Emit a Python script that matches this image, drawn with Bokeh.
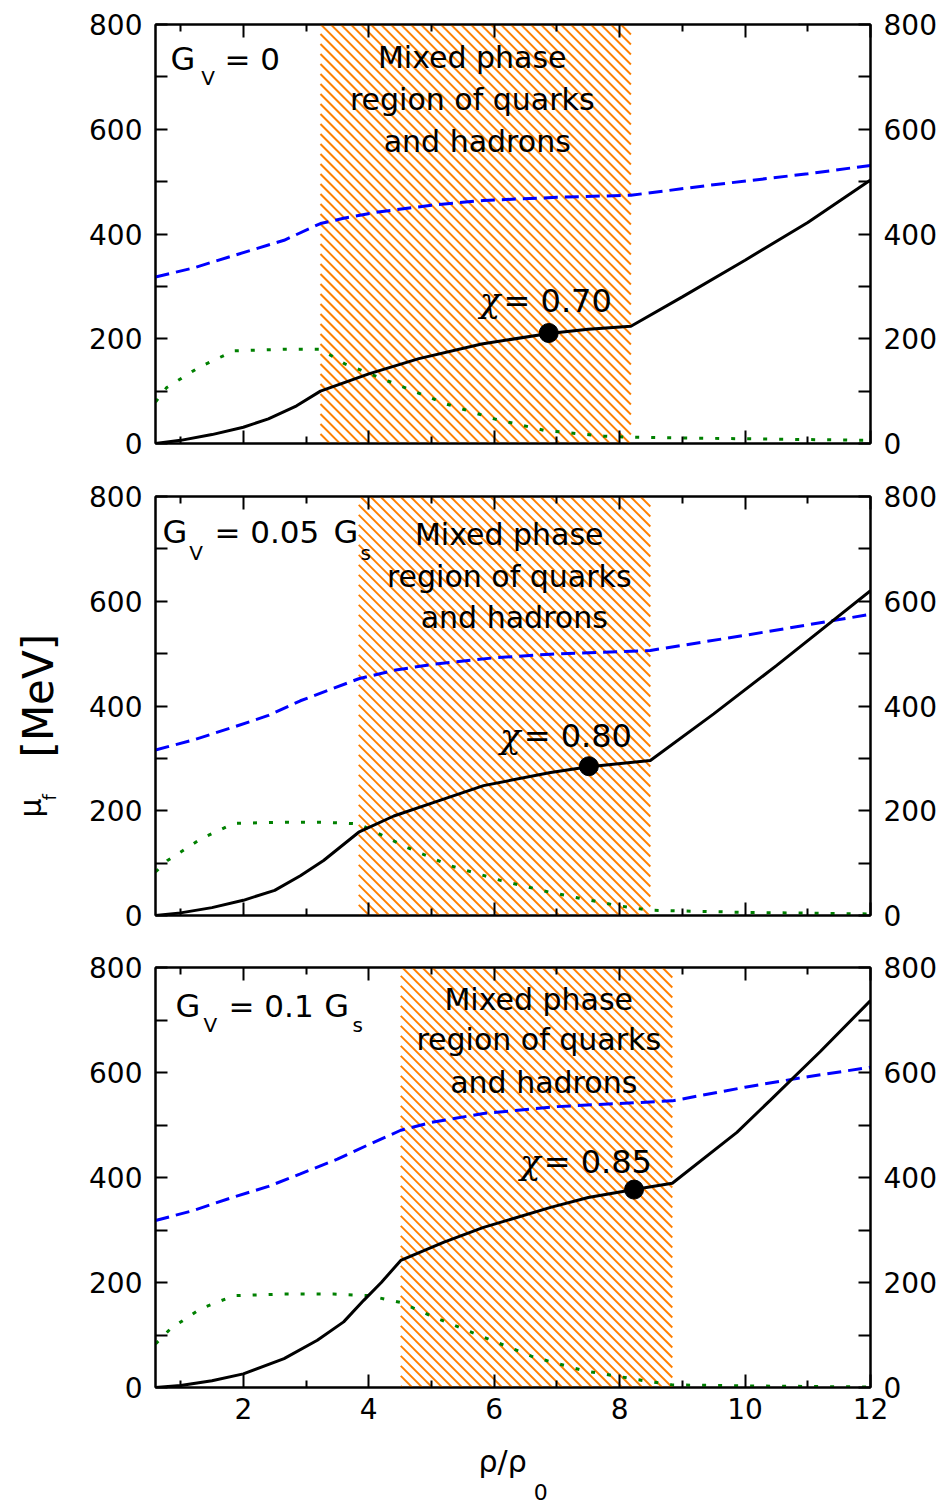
import math
from bokeh.plotting import figure
from bokeh.models import Range1d, LinearAxis, FixedTicker, Label
from bokeh.layouts import column, row
from bokeh.core.properties import value
from bokeh.embed import file_html
from bokeh.resources import INLINE

# ---------------- data ----------------
x_ticks = [2, 4, 6, 8, 10, 12]
x_minor = [1, 3, 5, 7, 9, 11]
y_ticks = [0, 200, 400, 600, 800]
y_minor = [100, 300, 500, 700]

# Panel 1: G_V = 0
p1_black_x = [0.6, 1.0, 1.5, 2.0, 2.4, 2.85, 3.23, 4.0, 4.8, 5.8, 6.87, 7.5, 8.18, 9.0, 10.0, 11.0, 12.0]
p1_black_y = [0, 6, 17, 31, 47, 72, 100, 133, 162, 190, 210, 218, 224, 280, 350, 422, 503]
p1_blue_x = [0.6, 1.2, 1.85, 2.65, 3.23, 3.6, 4.15, 5.0, 5.83, 7.0, 8.18, 9.5, 11.0, 12.0]
p1_blue_y = [318, 335, 359, 388, 420, 430, 442, 455, 464, 470, 474, 494, 515, 531]
p1_green_x = [0.6, 0.78, 1.3, 1.85, 2.65, 3.23, 3.62, 4.42, 5.22, 6.0, 6.8, 7.75, 8.18, 10.0, 12.0]
p1_green_y = [79, 107, 146, 177, 180, 180, 152, 114, 76, 47, 25, 14, 12, 9, 6]
p1_mixed = (3.23, 8.18)
p1_dot_x = [6.87]
p1_dot_y = [211]

# Panel 2: G_V = 0.05 G_s
p2_black_x = [0.6, 1.0, 1.5, 2.0, 2.5, 2.91, 3.28, 3.84, 4.4, 5.04, 5.83, 6.9, 7.51, 8.49, 9.5, 10.5, 12.0]
p2_black_y = [0, 5, 15, 29, 48, 76, 105, 159, 190, 216, 248, 273, 284, 296, 385, 477, 620]
p2_blue_x = [0.6, 1.2, 1.85, 2.4, 2.91, 3.4, 3.84, 4.4, 5.04, 6.0, 6.9, 8.49, 10.0, 12.0]
p2_blue_y = [316, 335, 360, 382, 410, 432, 452, 468, 480, 492, 499, 506, 535, 575]
p2_green_x = [0.6, 0.79, 1.32, 1.85, 2.65, 3.3, 3.84, 4.61, 5.3, 6.1, 6.9, 7.96, 8.49, 10.0, 12.0]
p2_green_y = [83, 105, 146, 176, 178, 178, 175, 130, 95, 67, 44, 19, 10, 6, 3]
p2_mixed = (3.84, 8.49)
p2_dot_x = [7.51]
p2_dot_y = [285]

# Panel 3: G_V = 0.1 G_s
p3_black_x = [0.6, 1.0, 1.5, 2.0, 2.65, 3.18, 3.6, 3.92, 4.2, 4.51, 5.2, 5.83, 6.9, 7.5, 8.23, 8.84, 9.87, 10.4, 11.2, 12.0]
p3_black_y = [0, 4, 13, 26, 55, 90, 125, 166, 200, 242, 277, 305, 343, 362, 377, 389, 486, 547, 640, 737]
p3_blue_x = [0.6, 1.2, 1.85, 2.4, 2.91, 3.5, 3.97, 4.51, 5.0, 5.83, 7.0, 8.49, 8.84, 10.0, 11.0, 12.0]
p3_blue_y = [318, 337, 363, 383, 407, 435, 461, 490, 505, 522, 535, 544, 546, 572, 592, 610]
p3_green_x = [0.6, 0.84, 1.32, 1.85, 2.65, 3.44, 4.0, 4.51, 5.04, 5.83, 6.63, 7.43, 8.39, 8.84, 10.0, 12.0]
p3_green_y = [83, 112, 150, 175, 178, 178, 175, 162, 134, 96, 58, 32, 13, 5, 3, 1]
p3_mixed = (4.51, 8.84)
p3_dot_x = [8.23]
p3_dot_y = [377]

FONT = "DejaVu Sans"
X0, X1, Y0, Y1 = 0.6, 12.0, 0, 800
FRAME_W = 715
LEFT_W = 70          # width of the strip holding the y title
MAIN_LEFT = 85       # left border of each panel (155 - LEFT_W)
MAIN_RIGHT = 72
HATCH = "#FF8000"
BASE_FIX = 0.36      # empirical baseline correction (fraction of font size)
PX_PER_Y = 419 / 800
STRIP_H = 72


def style_axis(ax, ticks, minor, tin, tmin, show_labels, standoff):
    ax.ticker = FixedTicker(ticks=ticks, minor_ticks=minor)
    ax.major_tick_in = tin
    ax.major_tick_out = 0
    ax.minor_tick_in = tmin
    ax.minor_tick_out = 0
    ax.major_tick_line_width = 2
    ax.minor_tick_line_width = 2
    ax.major_tick_line_color = "black"
    ax.minor_tick_line_color = "black"
    ax.axis_line_width = 2
    ax.axis_line_color = "black"
    if show_labels:
        ax.major_label_text_font = FONT
        ax.major_label_text_font_size = "28px"
        ax.major_label_text_color = "black"
        ax.major_label_standoff = standoff
    else:
        ax.major_label_text_font_size = "1px"
        ax.major_label_text_color = None
        ax.major_label_standoff = 0


def lab(p, x, y, text, size, font=FONT, style="normal", align="left"):
    y_adj = y + BASE_FIX * size / PX_PER_Y
    p.add_layout(Label(x=x, y=y_adj, text=text, text_font=font,
                       text_font_size=f"{size}px", text_font_style=style,
                       text_align=align, text_baseline="alphabetic",
                       text_color="black"))


def hatch_segments(x0, x1, frame_h, spacing_px=10.0):
    """45-degree '\\' hatch lines filling [x0, x1] x [Y0, Y1] in screen space."""
    px_x = FRAME_W / (X1 - X0)
    px_y = frame_h / (Y1 - Y0)
    k = px_x / px_y
    step = spacing_px / px_x
    xs, ys = [], []
    c = x1
    while c > x0 - (Y1 - Y0) / k:
        xa, ya = c, Y1
        xb, yb = c + (Y1 - Y0) / k, Y0
        if xa < x0:
            ya = Y1 - (x0 - c) * k
            xa = x0
        if xb > x1:
            yb = Y1 - (x1 - c) * k
            xb = x1
        if xa < xb:
            xs.append([xa, xb])
            ys.append([ya, yb])
        c -= step
    return xs, ys


def make_panel(top_b, bot_b, frame_h, bx, by, ux, uy, gx, gy, mixed, dx, dy, show_x):
    p = figure(frame_width=FRAME_W, frame_height=frame_h,
               min_border_left=MAIN_LEFT, min_border_right=MAIN_RIGHT,
               min_border_top=top_b, min_border_bottom=bot_b,
               x_range=Range1d(X0, X1), y_range=Range1d(Y0, Y1),
               output_backend="svg", toolbar_location=None)
    p.grid.visible = False
    p.background_fill_color = "white"
    p.border_fill_color = "white"
    p.outline_line_color = "black"
    p.outline_line_width = 2

    style_axis(p.xaxis[0], x_ticks, x_minor, 13, 7, show_x, 10)
    style_axis(p.yaxis[0], y_ticks, y_minor, 12, 12, True, 13)
    ra = LinearAxis()
    p.add_layout(ra, "right")
    style_axis(ra, y_ticks, y_minor, 12, 12, True, 13)
    ta = LinearAxis()
    p.add_layout(ta, "above")
    style_axis(ta, x_ticks, x_minor, 13, 7, False, 0)

    hx, hy = hatch_segments(mixed[0], mixed[1], frame_h)
    p.multi_line(hx, hy, line_color=HATCH, line_width=1.9)

    p.line(gx, gy, line_color="#008000", line_width=3, line_dash="4 12")
    p.line(ux, uy, line_color="#0000FF", line_width=3, line_dash="14 7")
    p.line(bx, by, line_color="black", line_width=3)
    p.scatter(dx, dy, size=19, color="black")
    return p


p1 = make_panel(24, 26, 419, p1_black_x, p1_black_y, p1_blue_x, p1_blue_y,
                p1_green_x, p1_green_y, p1_mixed, p1_dot_x, p1_dot_y, False)
p2 = make_panel(27, 26, 419, p2_black_x, p2_black_y, p2_blue_x, p2_blue_y,
                p2_green_x, p2_green_y, p2_mixed, p2_dot_x, p2_dot_y, False)
p3 = make_panel(26, 48, 420, p3_black_x, p3_black_y, p3_blue_x, p3_blue_y,
                p3_green_x, p3_green_y, p3_mixed, p3_dot_x, p3_dot_y, True)

# --- panel labels ---
lab(p1, 0.84, 712, "G", 32)
lab(p1, 1.33, 684, "V", 20)
lab(p1, 1.70, 712, "= 0", 31)

lab(p2, 0.71, 710, "G", 32)
lab(p2, 1.14, 678, "V", 20)
lab(p2, 1.54, 710, "= 0.05", 31)
lab(p2, 3.44, 710, "G", 32)
lab(p2, 3.87, 678, "s", 20)

lab(p3, 0.92, 705, "G", 32)
lab(p3, 1.365, 677, "V", 20)
lab(p3, 1.764, 705, "= 0.1", 31)
lab(p3, 3.29, 705, "G", 32)
lab(p3, 3.74, 677, "s", 20)

# --- mixed phase text ---
for p, cx, ys in ((p1, 5.65, (716, 636, 556)),
                  (p2, 6.24, (706, 627, 548)),
                  (p3, 6.71, (718, 642, 560))):
    lab(p, cx, ys[0], "Mixed phase", 30, align="center")
    lab(p, cx, ys[1], "region of quarks", 30, align="center")
    lab(p, cx + 0.08, ys[2], "and hadrons", 30, align="center")

# --- chi labels ---
for p, cx, cy, txt in ((p1, 6.15, 250, "= 0.70"),
                       (p2, 6.47, 320, "= 0.80"),
                       (p3, 6.79, 407, "= 0.85")):
    lab(p, cx - 0.05, cy, "χ", 34, font="DejaVu Serif", style="italic", align="right")
    lab(p, cx, cy, txt, 32)

TOTAL_H = 469 + 472 + 494 + STRIP_H

# --- x title strip (below bottom panel, same x scale) ---
pb = figure(frame_width=FRAME_W, frame_height=STRIP_H,
            min_border_left=MAIN_LEFT, min_border_right=MAIN_RIGHT,
            min_border_top=0, min_border_bottom=0,
            x_range=Range1d(X0, X1), y_range=Range1d(0, STRIP_H),
            x_axis_type=None, y_axis_type=None,
            output_backend="svg", toolbar_location=None)
pb.grid.visible = False
pb.outline_line_color = None
pb.text(x=[5.75], y=[35 + BASE_FIX * 30], text=["ρ/ρ"], text_font=value(FONT),
        text_font_size=value("30px"), text_baseline="alphabetic",
        text_align="left", text_color="black")
pb.text(x=[6.63], y=[8 + BASE_FIX * 22], text=["0"], text_font=value(FONT),
        text_font_size=value("22px"), text_baseline="alphabetic",
        text_align="left", text_color="black")

# --- y title strip (left of the panels, pixel-like scale) ---
pl = figure(frame_width=LEFT_W, frame_height=TOTAL_H,
            min_border_left=0, min_border_right=0,
            min_border_top=0, min_border_bottom=0,
            x_range=Range1d(0, LEFT_W), y_range=Range1d(0, TOTAL_H),
            x_axis_type=None, y_axis_type=None,
            output_backend="svg", toolbar_location=None)
pl.grid.visible = False
pl.outline_line_color = None
pl.text(x=[53 - BASE_FIX * 42], y=[TOTAL_H - 757], text=["[MeV]"], angle=math.pi / 2,
        text_font=value(FONT), text_font_size=value("42px"),
        text_baseline="alphabetic", text_align="left", text_color="black")
pl.text(x=[41 - BASE_FIX * 30], y=[TOTAL_H - 817], text=["μ"], angle=math.pi / 2,
        text_font=value(FONT), text_font_size=value("30px"),
        text_baseline="alphabetic", text_align="left", text_color="black")
pl.text(x=[55 - BASE_FIX * 18], y=[TOTAL_H - 800], text=["f"], angle=math.pi / 2,
        text_font=value(FONT), text_font_size=value("18px"),
        text_baseline="alphabetic", text_align="left", text_color="black")

layout = row(pl, column(p1, p2, p3, pb))
open("out.html", "w").write(file_html(layout, INLINE))
